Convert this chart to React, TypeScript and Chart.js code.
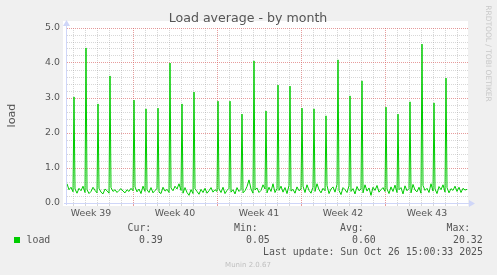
import React, { useEffect, useRef } from 'react';
import { Chart, registerables } from 'chart.js';

Chart.register(...registerables);

// ---- data (hours from the left edge of the plot, 2 px per 4 h) ----
const baselineStepHours = 4;
const baselineLoad = [
  0.55, 0.38, 0.45, 0.32, 0.40, 0.28, 0.42, 0.35, 0.48, 0.30,
  0.38, 0.27, 0.33, 0.45, 0.36, 0.29, 0.42, 0.31, 0.26, 0.40,
  0.35, 0.28, 0.44, 0.33, 0.38, 0.30, 0.36, 0.41, 0.34, 0.29,
  0.38, 0.33, 0.42, 0.35,
  0.46, 0.32, 0.40, 0.27, 0.48, 0.33, 0.38, 0.30, 0.44, 0.29,
  0.36, 0.41, 0.31, 0.27, 0.45, 0.34, 0.39, 0.30, 0.43, 0.35,
  0.48, 0.40, 0.55, 0.36, 0.28, 0.44, 0.30, 0.22, 0.38, 0.27,
  0.41, 0.33, 0.25, 0.39, 0.30, 0.42, 0.28, 0.35, 0.44, 0.31,
  0.38, 0.33,
  0.40, 0.30, 0.45, 0.27, 0.36, 0.42, 0.31, 0.38, 0.26, 0.44,
  0.33, 0.39, 0.29, 0.35, 0.47, 0.66, 0.40, 0.28, 0.37, 0.43,
  0.30, 0.36, 0.52, 0.40, 0.29, 0.45, 0.33, 0.55, 0.30, 0.41,
  0.36, 0.48, 0.31, 0.44, 0.27, 0.50, 0.34, 0.39, 0.28, 0.46,
  0.35, 0.40,
  0.48, 0.30, 0.52, 0.36, 0.28, 0.45, 0.33, 0.55, 0.38, 0.29,
  0.42, 0.35, 0.50, 0.27, 0.40, 0.46, 0.31, 0.53, 0.36, 0.24,
  0.44, 0.38, 0.30, 0.49, 0.33, 0.41, 0.26, 0.47, 0.35, 0.40,
  0.29, 0.52, 0.34, 0.43, 0.22, 0.45, 0.36, 0.50, 0.31, 0.38,
  0.44, 0.33,
  0.40, 0.27, 0.46, 0.33, 0.51, 0.30, 0.38, 0.44, 0.26, 0.49,
  0.35, 0.41, 0.29, 0.53, 0.37, 0.32, 0.45, 0.28, 0.50, 0.36,
  0.42, 0.30, 0.55, 0.34, 0.40, 0.27, 0.47, 0.38, 0.52, 0.31,
  0.44, 0.29, 0.41, 0.36, 0.48, 0.33, 0.45, 0.30, 0.42, 0.37,
  0.39,
];
const spikeHours = [
  14, 38, 62, 86, 134, 158, 182, 206, 230, 254,
  302, 326, 350, 374, 398, 422, 446, 470, 494, 518,
  542, 566, 590, 638, 662, 686, 710, 734, 758,
];
const spikeLoad = [
  3.03, 4.43, 2.83, 3.63, 2.94, 2.69, 2.71, 4.00, 2.83, 3.17,
  2.91, 2.91, 2.54, 4.06, 2.63, 3.37, 3.34, 2.71, 2.69, 2.49,
  4.09, 3.06, 3.49, 2.74, 2.54, 2.89, 4.54, 2.86, 3.57,
];

const rangeHours = 802;
const weekLabels = ['Week 39', 'Week 40', 'Week 41', 'Week 42', 'Week 43'];
const weekCenterHours = [48, 216, 384, 552, 720];
const weekStartHours = [132, 300, 468, 636];
const firstDayLineHour = 12;
const hoursPerDay = 24;
const yTickLabels = ['0.0', '1.0', '2.0', '3.0', '4.0', '5.0'];
const yMinorStep = 0.2;

const statHeaders = ['Cur:', 'Min:', 'Avg:', 'Max:'];
const statValues = ['0.39', '0.05', '0.60', '20.32'];
const seriesName = 'load';
const titleText = 'Load average - by month';
const yAxisTitle = 'load';
const lastUpdate = 'Last update: Sun Oct 26 15:00:33 2025';
const footer = 'Munin 2.0.67';
const sideText = 'RRDTOOL / TOBI OETIKER';

// ---- styles ----
const GREEN = '#00cc00';
const MINOR = 'rgba(150,150,150,0.38)';
const MAJOR = 'rgba(215,90,90,0.6)';
const AXIS = '#CFD6F8';
const TEXT = '#555555';

function buildPoints() {
  const pts: { x: number; y: number }[] = [];
  baselineLoad.forEach((v, i) => pts.push({ x: i * baselineStepHours, y: v }));
  spikeHours.forEach((h, i) => pts.push({ x: h, y: spikeLoad[i] }));
  pts.sort((a, b) => a.x - b.x);
  return pts;
}

const labelByHour = new Map<number, string>();
weekCenterHours.forEach((h, i) => labelByHour.set(h, weekLabels[i]));

function isWeekStart(v: number) {
  return weekStartHours.indexOf(v) >= 0;
}

const muninPlugin = {
  id: 'muninDecor',
  beforeDraw(chart: any) {
    const { ctx, chartArea: a } = chart;
    ctx.save();
    ctx.fillStyle = '#f0f0f0';
    ctx.fillRect(0, 0, chart.width, chart.height);
    ctx.fillStyle = '#ffffff';
    ctx.fillRect(a.left - 4, a.top - 7, a.right - a.left + 4, a.bottom - a.top + 10);
    ctx.restore();
  },
  beforeDatasetsDraw(chart: any) {
    const { ctx, chartArea: a } = chart;
    ctx.save();
    ctx.strokeStyle = AXIS;
    ctx.fillStyle = AXIS;
    ctx.lineWidth = 1;
    const ax = a.left - 0.5;
    const ay = a.bottom + 0.5;
    ctx.beginPath();
    ctx.moveTo(ax, a.bottom + 2);
    ctx.lineTo(ax, a.top - 4);
    ctx.moveTo(a.left - 3, ay);
    ctx.lineTo(a.right + 2, ay);
    ctx.stroke();
    // arrows
    ctx.beginPath();
    ctx.moveTo(ax, a.top - 8);
    ctx.lineTo(ax - 3.5, a.top - 2);
    ctx.lineTo(ax + 3.5, a.top - 2);
    ctx.closePath();
    ctx.fill();
    ctx.beginPath();
    ctx.moveTo(a.right + 7, ay);
    ctx.lineTo(a.right + 1, ay - 3.5);
    ctx.lineTo(a.right + 1, ay + 3.5);
    ctx.closePath();
    ctx.fill();
    ctx.restore();
  },
  afterDraw(chart: any) {
    const { ctx, chartArea: a } = chart;
    ctx.save();
    // title
    ctx.fillStyle = TEXT;
    ctx.font = '12.6px "DejaVu Sans"';
    ctx.textAlign = 'center';
    ctx.textBaseline = 'middle';
    ctx.fillText(titleText, 248, 19);
    // y axis title
    ctx.save();
    ctx.translate(15, (a.top + a.bottom) / 2);
    ctx.rotate(-Math.PI / 2);
    ctx.font = '11.2px "DejaVu Sans"';
    ctx.textAlign = 'center';
    ctx.textBaseline = 'alphabetic';
    ctx.fillText(yAxisTitle, 0, 0);
    ctx.restore();
    // side text
    ctx.save();
    ctx.translate(485.5, 53.5);
    ctx.rotate(Math.PI / 2);
    ctx.fillStyle = '#c8c8c8';
    ctx.font = '7.5px "DejaVu Sans"';
    ctx.textAlign = 'center';
    ctx.textBaseline = 'alphabetic';
    ctx.fillText(sideText, 0, 0);
    ctx.restore();
    // legend
    ctx.fillStyle = GREEN;
    ctx.fillRect(14, 237, 6, 6);
    ctx.fillStyle = TEXT;
    ctx.font = '9.9px "DejaVu Sans Mono"';
    ctx.textAlign = 'left';
    ctx.textBaseline = 'alphabetic';
    ctx.fillText(seriesName, 26.5, 243.3);
    const headerX = [127.5, 234, 340, 446.5];
    const valueX = [139, 246, 352, 453];
    statHeaders.forEach((h, i) => ctx.fillText(h, headerX[i], 231.4));
    statValues.forEach((v, i) => ctx.fillText(v, valueX[i], 243.3));
    ctx.textAlign = 'right';
    ctx.fillText(lastUpdate, 483, 255.2);
    ctx.textAlign = 'center';
    ctx.fillStyle = '#c0c0c0';
    ctx.font = '7px "DejaVu Sans"';
    ctx.fillText(footer, 248, 266.5);
    ctx.restore();
  },
};

export default function App() {
  const ref = useRef<HTMLCanvasElement>(null);
  useEffect(() => {
    const canvas = ref.current;
    if (!canvas) return;
    const chart = new Chart(canvas, {
      type: 'line',
      data: {
        datasets: [
          {
            label: seriesName,
            data: buildPoints(),
            borderColor: GREEN,
            backgroundColor: GREEN,
            borderWidth: 1,
            pointRadius: 0,
            tension: 0,
            fill: false,
          },
        ],
      },
      options: {
        animation: false,
        responsive: false,
        devicePixelRatio: 1,
        layout: { padding: { left: 0, top: 28, right: 29, bottom: 0 } },
        plugins: {
          legend: { display: false },
          tooltip: { enabled: false },
          title: { display: false },
        },
        scales: {
          x: {
            type: 'linear',
            min: 0,
            max: rangeHours,
            afterBuildTicks: (scale: any) => {
              const ticks: { value: number }[] = [];
              for (let h = firstDayLineHour; h <= rangeHours; h += hoursPerDay) ticks.push({ value: h });
              weekCenterHours.forEach((h) => ticks.push({ value: h }));
              ticks.sort((p, q) => p.value - q.value);
              scale.ticks = ticks;
            },
            afterFit: (scale: any) => {
              scale.height = 72;
            },
            ticks: {
              autoSkip: false,
              maxRotation: 0,
              padding: 2,
              color: TEXT,
              font: { family: 'DejaVu Sans', size: 9.4 },
              callback: (v: any) => labelByHour.get(Number(v)) ?? '',
            },
            grid: {
              lineWidth: 1,
              tickLength: 3,
              color: (c: any) =>
                labelByHour.has(c.tick?.value) ? 'rgba(0,0,0,0)' : isWeekStart(c.tick?.value) ? MAJOR : MINOR,
              tickColor: (c: any) =>
                labelByHour.has(c.tick?.value) ? 'rgba(0,0,0,0)' : isWeekStart(c.tick?.value) ? MAJOR : MINOR,
            },
            border: { display: false, dash: [1, 1] },
          },
          y: {
            type: 'linear',
            min: 0,
            max: yTickLabels.length - 1,
            afterBuildTicks: (scale: any) => {
              const ticks: { value: number }[] = [];
              const n = Math.round((yTickLabels.length - 1) / yMinorStep);
              for (let i = 0; i <= n; i++) ticks.push({ value: Math.round(i * yMinorStep * 10) / 10 });
              scale.ticks = ticks;
            },
            afterFit: (scale: any) => {
              scale.width = 67;
            },
            ticks: {
              autoSkip: false,
              padding: 7,
              color: TEXT,
              font: { family: 'DejaVu Sans', size: 9.4 },
              callback: (v: any) => {
                const n = Number(v);
                return Math.abs(n - Math.round(n)) < 1e-6 ? yTickLabels[Math.round(n)] : '';
              },
            },
            grid: {
              lineWidth: 1,
              drawTicks: false,
              color: (c: any) => {
                const n = c.tick?.value ?? 0;
                return Math.abs(n - Math.round(n)) < 1e-6 ? MAJOR : MINOR;
              },
            },
            border: { display: false, dash: [1, 1] },
          },
        },
      },
      plugins: [muninPlugin],
    } as any);
    return () => chart.destroy();
  }, []);
  return (
    <div style={{ position: 'fixed', left: 0, top: 0, width: 497, height: 275, background: '#f0f0f0' }}>
      <canvas ref={ref} width={497} height={275} style={{ display: 'block', width: 497, height: 275 }} />
    </div>
  );
}
